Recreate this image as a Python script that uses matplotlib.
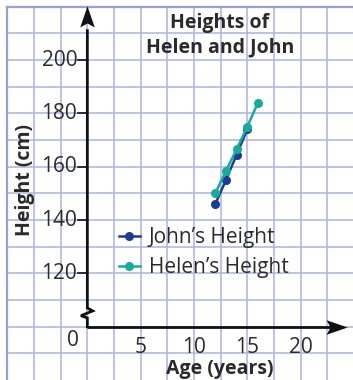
import numpy as np
import matplotlib
matplotlib.use("Agg")
import matplotlib.pyplot as plt
from matplotlib.path import Path

plt.rcParams['font.family'] = ['Open Sans', 'DejaVu Sans']

# data
john_age = [12, 13, 14, 15]
john_height = [146, 155, 164.5, 174]
helen_age = [12, 13, 14, 15, 16]
helen_height = [150, 158.5, 166.5, 175, 184]

y_ticks = [120, 140, 160, 180, 200]
x_ticks = [5, 10, 15, 20]

john_col = '#1b3d8f'
helen_col = '#1aa99b'
grid_col = '#aeb3da'
txt_col = '#2a2a2a'

fig = plt.figure(figsize=(3.53, 3.80), dpi=100)
ax = fig.add_axes([0, 0, 1, 1])
ax.set_xlim(-8.19, 24.91)
ax.set_ylim(80, 222.5)
ax.axis('off')

# graph-paper grid
for gx in np.arange(-7.5, 25, 2.5):
    ax.plot([gx, gx], [80, 220], color=grid_col, lw=1.1, zorder=1)
for gy in np.arange(90, 221, 10):
    ax.plot([-7.5, 24.91], [gy, gy], color=grid_col, lw=1.1, zorder=1)
ax.plot([-7.5, -7.5], [80, 220], color='#9aa0c8', lw=1.6, zorder=1)
ax.plot([-7.5, 24.91], [220, 220], color='#9aa0c8', lw=1.6, zorder=1)

# axes with a break near the origin
ax.plot([0, 24.0], [100, 100], color='#111111', lw=2, zorder=3, solid_capstyle='butt')
ax.plot([0, 0, -0.6, 0.5, 0, 0], [100, 103.3, 104.1, 105.9, 107, 211],
        color='#111111', lw=2, zorder=3, solid_joinstyle='miter')

head = Path([(0, 1), (0.55, -0.6), (0, -0.3), (-0.55, -0.6), (0, 1)],
            [Path.MOVETO, Path.LINETO, Path.LINETO, Path.LINETO, Path.CLOSEPOLY])
ax.plot([0], [215.2], marker=head, ms=19, color='#111111', zorder=4, mew=0)
head_r = head.transformed(matplotlib.transforms.Affine2D().rotate_deg(-90))
ax.plot([23.1], [100], marker=head_r, ms=19, color='#111111', zorder=4, mew=0)

# tick marks and labels
for t in y_ticks:
    ax.plot([-0.85, 0], [t, t], color='#111111', lw=1.2, zorder=3)
    ax.text(-0.95, t, str(t), ha='right', va='center', fontsize=15, color=txt_col)
for t in x_ticks:
    ax.text(t, 92.2, str(t), ha='center', va='center', fontsize=15, color=txt_col)
ax.text(-1.35, 94.8, '0', ha='center', va='center', fontsize=15, color=txt_col)

# series
ax.plot(john_age, john_height, color=john_col, lw=1.8, marker='o', ms=5.5, zorder=5,
        label='John\u2019s Height')
ax.plot(helen_age, helen_height, color=helen_col, lw=1.8, marker='o', ms=5.5, zorder=6,
        label='Helen\u2019s Height')

ax.legend(loc='upper left', bbox_to_anchor=(119 / 353, 1 - 227 / 380), frameon=False,
          fontsize=15, handlelength=1.0, handletextpad=0.42, labelspacing=0.45,
          borderpad=0, borderaxespad=0, numpoints=1, labelcolor=txt_col)

# titles
ax.text(12.44, 209.4, 'Heights of\nHelen and John', ha='center', va='center',
        fontsize=14, fontweight='bold', color=txt_col, linespacing=1.28)
ax.text(12.44, 84.3, 'Age (years)', ha='center', va='center', fontsize=14,
        fontweight='bold', color=txt_col)
ax.text(-5.85, 155, 'Height (cm)', ha='center', va='center', rotation=90,
        fontsize=14, fontweight='bold', color=txt_col)

fig.savefig('out.png', dpi=100, facecolor='white')
